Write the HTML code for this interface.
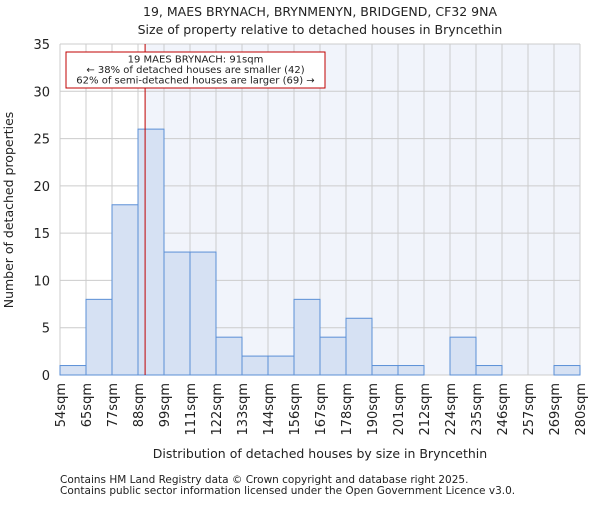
<!DOCTYPE html>
<html><head><meta charset="utf-8"><style>
body{margin:0;background:#fff;}
svg text{font-family:"DejaVu Sans","Liberation Sans",sans-serif;fill:#222;}
</style></head><body>
<svg id="chart" width="600" height="500" viewBox="0 0 600 500" xmlns="http://www.w3.org/2000/svg">
<text x="320" y="16" text-anchor="middle" font-size="12.5">19, MAES BRYNACH, BRYNMENYN, BRIDGEND, CF32 9NA</text>
<text x="320" y="34" text-anchor="middle" font-size="12.5">Size of property relative to detached houses in Bryncethin</text>
<g id="plot"></g>
<text x="320" y="458" text-anchor="middle" font-size="12.5">Distribution of detached houses by size in Bryncethin</text>
<text transform="translate(13,210) rotate(-90)" text-anchor="middle" font-size="12.5">Number of detached properties</text>
<text x="60" y="483" font-size="10.5" fill="#444">Contains HM Land Registry data © Crown copyright and database right 2025.</text>
<text x="60" y="494" font-size="10.5" fill="#444">Contains public sector information licensed under the Open Government Licence v3.0.</text>
</svg>
<script>
const binLabels=["54sqm","65sqm","77sqm","88sqm","99sqm","111sqm","122sqm","133sqm","144sqm","156sqm","167sqm","178sqm","190sqm","201sqm","212sqm","224sqm","235sqm","246sqm","257sqm","269sqm","280sqm"];
const binEdges=[54,65,77,88,99,111,122,133,144,156,167,178,190,201,212,224,235,246,257,269,280];
const counts=[1,8,18,26,13,13,4,2,2,8,4,6,1,1,0,4,1,0,0,1];
const yTicks=[0,5,10,15,20,25,30,35];
const propertySize=91;
const L=60,R=580,T=44,B=375,YMAX=35;
const ns="http://www.w3.org/2000/svg";
const g=document.getElementById('plot');
const n=counts.length,bw=(R-L)/n;
const xi=i=>L+i*bw;
const y=v=>B-v/YMAX*(B-T);
function xv(v){for(let i=0;i<binEdges.length-1;i++){if(v<=binEdges[i+1])return xi(i)+(v-binEdges[i])/(binEdges[i+1]-binEdges[i])*bw;}return R;}
function mk(t,a){const e=document.createElementNS(ns,t);for(const k in a)e.setAttribute(k,a[k]);g.appendChild(e);return e;}
const px=xv(propertySize);
let e=mk('rect',{x:px,y:T,width:R-px,height:B-T,fill:'#f1f4fb'});


for(const t of yTicks){
 e=mk('line',{x1:L,x2:R,y1:y(t),y2:y(t),stroke:'#cccccc','stroke-width':1});
 
 
 e=mk('text',{x:L-10,y:y(t)+5,'text-anchor':'end','font-size':13});
 e.textContent=t;
 
 
}
for(let i=0;i<binLabels.length;i++){
 e=mk('line',{x1:xi(i),x2:xi(i),y1:T,y2:B,stroke:'#cccccc','stroke-width':1});
 
 
 e=mk('text',{transform:`translate(${xi(i)+5},${B+8}) rotate(-90)`,'text-anchor':'end','font-size':13});
 e.textContent=binLabels[i];
 
 
}
for(let i=0;i<n;i++){
 if(counts[i]<=0)continue;
 e=mk('rect',{x:xi(i),y:y(counts[i]),width:bw,height:B-y(counts[i]),fill:'#d6e1f3',stroke:'#5b8fd6','stroke-width':1});
 
 
}
e=mk('line',{x1:px,x2:px,y1:T,y2:B,stroke:'#c00000','stroke-width':1});


e=mk('rect',{x:66,y:52,width:259,height:36,fill:'#fff',stroke:'#c00000','stroke-width':1});


const ann=["19 MAES BRYNACH: 91sqm","← 38% of detached houses are smaller (42)","62% of semi-detached houses are larger (69) →"];
ann.forEach((s,k)=>{
 e=mk('text',{x:195.5,y:62.5+k*10.5,'text-anchor':'middle','font-size':10});
 e.textContent=s;
 
 
});
</script>
</body></html>
